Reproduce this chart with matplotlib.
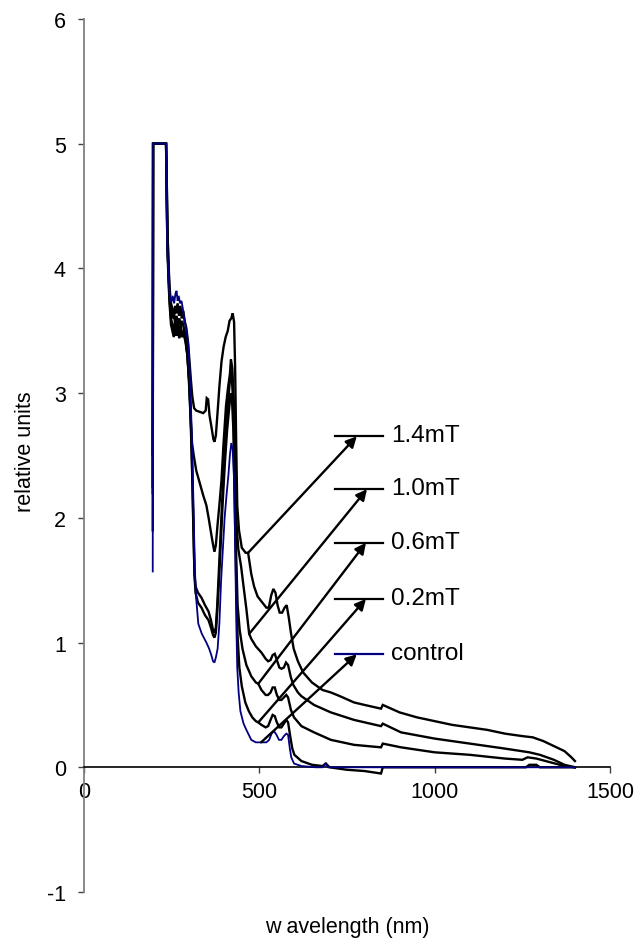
import numpy as np
import matplotlib
matplotlib.use("Agg")
import matplotlib.pyplot as plt

plt.rcParams['font.family'] = ['Liberation Sans', 'DejaVu Sans']

# ---------------- data ----------------
control_wl = [196, 197, 234, 236, 238, 241, 245, 249, 253, 257, 261, 264, 267, 270, 274, 278, 283, 287, 292, 297,
              301, 305, 309, 313, 316, 320, 326, 336, 349, 357, 363, 368, 372, 376, 381, 386, 391, 396, 401, 407,
              412, 416, 420, 424, 428, 431, 434, 437, 441, 446, 455, 463, 477, 490, 506, 520, 528, 535, 542, 549,
              556, 563, 570, 577, 582, 587, 591, 599, 620, 660, 680, 688, 696, 1400]
control_val = [1.57, 5.0, 5.0, 4.4, 4.1, 3.95, 3.75, 3.73, 3.78, 3.72, 3.8, 3.82, 3.74, 3.78, 3.72, 3.74, 3.66, 3.58, 3.5, 3.4,
               3.2, 2.9, 2.5, 2.0, 1.6, 1.35, 1.15, 1.07, 1.0, 0.95, 0.9, 0.85, 0.84, 0.88, 0.95, 1.15, 1.5, 1.75, 2.0, 2.2,
               2.35, 2.5, 2.6, 2.55, 2.3, 1.8, 1.2, 0.8, 0.6, 0.45, 0.35, 0.3, 0.22, 0.2, 0.2, 0.2, 0.22, 0.27, 0.29, 0.26,
               0.22, 0.22, 0.25, 0.27, 0.26, 0.15, 0.08, 0.03, 0.01, 0.0, 0.0, 0.03, 0.0, 0.0]

mt14_wl = [196, 197, 234, 236, 238, 241, 244, 248, 252, 256, 260, 263, 267, 271, 275, 279, 283, 287, 292, 297,
           301, 305, 309, 314, 320, 330, 340, 347, 350, 354, 358, 364, 369, 372, 376, 381, 386, 392, 398, 404,
           410, 415, 420, 424, 428, 431, 434, 437, 442, 450, 461, 468, 477, 485, 495, 506, 520, 527, 534, 540,
           546, 552, 558, 565, 572, 578, 584, 590, 598, 610, 625, 650, 680, 704, 730, 770, 800, 847, 852, 900,
           950, 1000, 1050, 1100, 1150, 1200, 1250, 1280, 1310, 1340, 1370, 1390, 1400]
mt14_val = [2.5, 5.0, 5.0, 4.7, 4.3, 4.05, 3.85, 3.72, 3.68, 3.6, 3.7, 3.64, 3.72, 3.62, 3.7, 3.6, 3.66, 3.58, 3.52, 3.4,
            3.25, 3.1, 2.97, 2.88, 2.86, 2.85, 2.84, 2.86, 2.96, 2.95, 2.82, 2.72, 2.63, 2.61, 2.66, 2.85, 3.05, 3.25, 3.37, 3.45,
            3.5, 3.58, 3.6, 3.64, 3.57, 3.2, 2.6, 2.1, 1.9, 1.76, 1.72, 1.72, 1.55, 1.45, 1.37, 1.33, 1.28, 1.28, 1.38, 1.43,
            1.4, 1.3, 1.24, 1.24, 1.28, 1.3, 1.2, 1.08, 0.95, 0.85, 0.76, 0.68, 0.62, 0.6, 0.57, 0.52, 0.5, 0.47, 0.5, 0.44,
            0.4, 0.37, 0.34, 0.32, 0.3, 0.27, 0.25, 0.24, 0.21, 0.17, 0.13, 0.08, 0.05]

mt10_wl = [196, 197, 234, 236, 238, 241, 244, 248, 252, 256, 260, 264, 268, 272, 276, 280, 285, 290, 295, 300,
           304, 308, 313, 320, 330, 340, 349, 356, 364, 369, 372, 376, 381, 386, 392, 398, 405, 411, 416, 419,
           423, 427, 431, 435, 440, 448, 455, 463, 471, 477, 490, 506, 518, 525, 532, 538, 544, 550, 557, 563,
           570, 576, 582, 590, 597, 610, 620, 656, 704, 770, 847, 852, 904, 1000, 1100, 1200, 1270, 1300, 1340, 1370, 1400]
mt10_val = [2.25, 5.0, 5.0, 4.7, 4.3, 4.0, 3.8, 3.66, 3.6, 3.64, 3.56, 3.62, 3.55, 3.6, 3.53, 3.58, 3.52, 3.45, 3.3, 3.05,
            2.8, 2.6, 2.5, 2.38, 2.28, 2.18, 2.1, 1.99, 1.85, 1.77, 1.73, 1.78, 1.95, 2.1, 2.3, 2.6, 2.9, 3.05, 3.15, 3.27,
            3.2, 2.95, 2.4, 1.95, 1.75, 1.61, 1.45, 1.27, 1.07, 1.03, 0.97, 0.92, 0.87, 0.85, 0.86, 0.9, 0.91, 0.86, 0.8, 0.79,
            0.8, 0.84, 0.82, 0.72, 0.66, 0.6, 0.57, 0.5, 0.44, 0.38, 0.33, 0.35, 0.28, 0.23, 0.19, 0.15, 0.12, 0.1, 0.06, 0.02, 0.0]

mt06_wl = [196, 197, 234, 236, 238, 241, 244, 248, 252, 256, 260, 264, 268, 272, 276, 280, 285, 290, 295, 300,
           304, 308, 312, 315, 318, 325, 335, 345, 355, 362, 368, 372, 376, 380, 385, 390, 396, 402, 408, 413,
           418, 422, 426, 430, 434, 438, 444, 452, 463, 477, 490, 497, 506, 518, 525, 532, 538, 544, 550, 557,
           563, 570, 577, 582, 590, 599, 620, 656, 704, 770, 847, 852, 904, 1000, 1100, 1200, 1250, 1265, 1290, 1330, 1370, 1400]
mt06_val = [2.2, 5.0, 5.0, 4.6, 4.2, 3.95, 3.75, 3.6, 3.55, 3.5, 3.58, 3.5, 3.56, 3.48, 3.54, 3.47, 3.5, 3.42, 3.3, 3.1,
            2.8, 2.4, 1.9, 1.55, 1.45, 1.4, 1.36, 1.3, 1.25, 1.18, 1.1, 1.08, 1.12, 1.3, 1.6, 1.9, 2.25, 2.6, 2.85, 3.0,
            3.17, 3.1, 2.9, 2.3, 1.7, 1.3, 1.1, 0.95, 0.82, 0.73, 0.68, 0.67, 0.62, 0.58, 0.58, 0.6, 0.64, 0.64, 0.58, 0.54,
            0.54, 0.56, 0.58, 0.56, 0.46, 0.4, 0.33, 0.28, 0.22, 0.18, 0.16, 0.19, 0.16, 0.12, 0.1, 0.07, 0.06, 0.08, 0.07, 0.04, 0.01, 0.0]

mt02_wl = [196, 197, 234, 236, 238, 241, 244, 248, 252, 256, 260, 264, 268, 272, 276, 280, 285, 290, 295, 300,
           304, 308, 312, 315, 318, 325, 335, 345, 355, 362, 368, 372, 376, 380, 385, 390, 396, 402, 408, 413,
           418, 422, 426, 430, 434, 438, 443, 450, 460, 470, 480, 490, 497, 506, 518, 525, 532, 538, 544, 550,
           557, 563, 570, 577, 582, 588, 594, 600, 620, 650, 680, 690, 700, 750, 800, 847, 852, 1260, 1270, 1290, 1300, 1400]
mt02_val = [1.9, 5.0, 5.0, 4.5, 4.15, 3.9, 3.72, 3.55, 3.5, 3.45, 3.52, 3.46, 3.5, 3.44, 3.5, 3.45, 3.47, 3.4, 3.3, 3.1,
            2.85, 2.45, 1.95, 1.55, 1.4, 1.32, 1.28, 1.22, 1.18, 1.12, 1.06, 1.04, 1.08, 1.25, 1.5, 1.8, 2.15, 2.45, 2.7, 2.85,
            3.0, 2.95, 2.7, 2.1, 1.5, 1.05, 0.8, 0.65, 0.52, 0.45, 0.4, 0.37, 0.36, 0.34, 0.32, 0.33, 0.38, 0.42, 0.41, 0.36,
            0.32, 0.32, 0.35, 0.38, 0.36, 0.25, 0.15, 0.1, 0.05, 0.02, 0.01, 0.03, 0.0, -0.02, -0.03, -0.05, 0.0, 0.0, 0.02, 0.02, 0.0, 0.0]

series_names = ['1.4mT', '1.0mT', '0.6mT', '0.2mT', 'control']
label_y = [2.654, 2.23, 1.80, 1.35, 0.906]
arrow_tail_wl = [468, 471, 497, 497, 505]
arrow_tip_wl = [778, 807, 804, 804, 778]

x_ticks = [0, 500, 1000, 1500]
y_ticks = [-1, 0, 1, 2, 3, 4, 5, 6]

# ---------------- figure ----------------
fig = plt.figure(figsize=(6.36, 9.45), dpi=100)
ax = fig.add_axes([84 / 636, 1 - 893 / 945, 526 / 636, 873 / 945])

blue = '#000080'
series = [(mt14_wl, mt14_val), (mt10_wl, mt10_val), (mt06_wl, mt06_val), (mt02_wl, mt02_val), (control_wl, control_val)]
colors = ['black', 'black', 'black', 'black', blue]
widths = [1.7, 1.7, 1.7, 1.7, 1.3]
for (wl, v), c, w in zip(series, colors, widths):
    ax.plot(wl, v, color=c, lw=w, solid_joinstyle='miter', zorder=3 if c == blue else 2)

# labels with leader lines and arrows
line_x0, line_x1, text_x = 716, 853, 875
for (wl, v), name, ly, tw, hw, c in zip(series, series_names, label_y, arrow_tail_wl, arrow_tip_wl, colors):
    ty = float(np.interp(tw, wl, v))
    ax.plot([line_x0, line_x1], [ly, ly], color=c, lw=1.6, zorder=4)
    ax.annotate('', xy=(hw, ly), xytext=(tw, ty),
                arrowprops=dict(arrowstyle='-|>', color='black', lw=1.7, mutation_scale=16,
                                shrinkA=0, shrinkB=0), zorder=5)
    ax.text(text_x, ly + 0.01, name, fontsize=17.5, va='center', ha='left', color='black')

ax.set_xlim(0, 1500)
ax.set_ylim(-1, 6)
ax.set_xticks(x_ticks)
ax.set_yticks(y_ticks)
ax.set_xticklabels([str(t) for t in x_ticks])
ax.set_yticklabels([str(t) for t in y_ticks])

for s in ['top', 'right']:
    ax.spines[s].set_visible(False)
ax.spines['left'].set_color('#808080')
ax.spines['left'].set_linewidth(1.3)
ax.spines['bottom'].set_position(('data', 0))
ax.spines['bottom'].set_color('black')
ax.spines['bottom'].set_linewidth(1.2)

ax.tick_params(axis='y', direction='out', length=4, width=1.0, color='#404040', labelsize=15.5, pad=9)
ax.tick_params(axis='x', direction='out', length=4, width=1.0, color='#404040', labelsize=15.5, pad=6)

fig.text(347 / 636, 1 - 928 / 945, 'w avelength (nm)', fontsize=15.5, ha='center', va='center')
fig.text(26 / 636, 1 - 452 / 945, 'relative units', fontsize=15.5, ha='center', va='center', rotation=90)

fig.savefig('out.png', dpi=100)
